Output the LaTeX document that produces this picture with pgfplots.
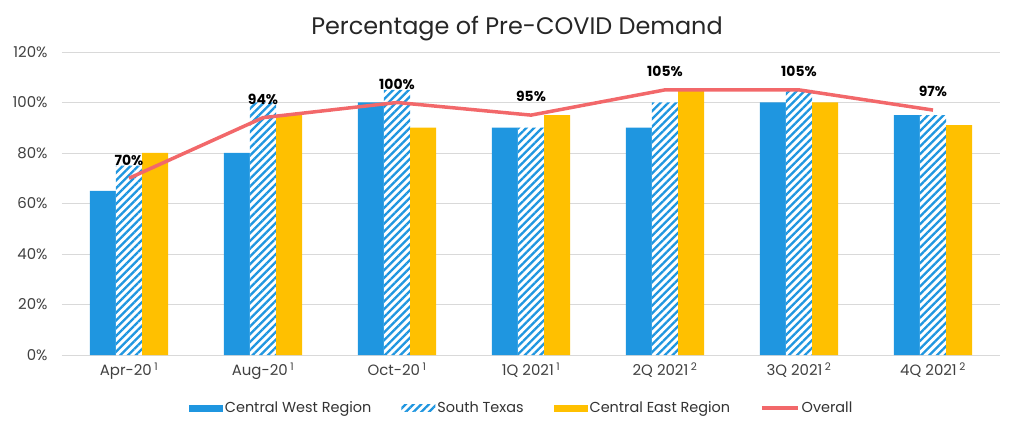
\documentclass[border=0pt]{standalone}
\usepackage{pgfplots}
\pgfplotsset{compat=1.18}
\usepackage{fontspec}
\setmainfont{Poppins}
\usetikzlibrary{patterns.meta}
\definecolor{cwblue}{RGB}{31,150,224}
\definecolor{cegold}{RGB}{255,192,0}
\definecolor{ovred}{RGB}{242,104,106}
\definecolor{gridgray}{RGB}{217,217,217}
\pgfplotsset{
  barlegend/.style={legend image code/.code={\draw[##1,draw=none] (0bp,-3.5bp) rectangle (34bp,3.5bp);}},
  linelegend/.style={legend image code/.code={\draw[##1] (0bp,0bp) -- (36bp,0bp);}},
}
\begin{document}
\begin{tikzpicture}[x=1bp,y=1bp]
\useasboundingbox (-62bp,-66bp) rectangle (951bp,355bp);
\begin{axis}[
  at={(0,0)}, anchor=south west,
  scale only axis, width=938bp, height=303bp,
  xmin=-0.5, xmax=6.5, ymin=0, ymax=120,
  xtick={0,1,2,3,4,5,6},
  xticklabels={Apr-20\,\textsuperscript{1},Aug-20\,\textsuperscript{1},Oct-20\,\textsuperscript{1},1Q 2021\,\textsuperscript{1},2Q 2021\,\textsuperscript{2},3Q 2021\,\textsuperscript{2},4Q 2021\,\textsuperscript{2}},
  ytick={0,20,40,60,80,100,120},
  yticklabel={\pgfmathprintnumber{\tick}\%},
  /pgf/number format/assume math mode=true,
  ymajorgrids, grid style={gridgray, line width=0.8pt},
  axis x line*=bottom, axis y line*=left,
  x axis line style={gridgray, line width=0.8pt, -},
  y axis line style={draw=none},
  major tick length=0pt,
  tick label style={font=\fontsize{15}{17}\selectfont, text=black!75},
  yticklabel style={xshift=-11bp},
  xticklabel style={yshift=-4bp},
  title={Percentage of Pre-COVID Demand},
  title style={font=\fontsize{24}{27}\selectfont, text=black!85, yshift=2bp, xshift=-14bp},
  legend style={at={(0.49,-0.175)}, anchor=center, draw=none, font=\fontsize{14.5}{16}\selectfont, text=black!80, legend columns=4, /tikz/every even column/.append style={column sep=28bp}, /tikz/every odd column/.append style={column sep=0bp}},
  barlegend,
  clip=false,
]
\addplot[ybar, bar width=0.195, bar shift=-0.195, fill=cwblue, draw=none] coordinates {(0,65) (1,80) (2,100) (3,90) (4,90) (5,100) (6,95)};
\addlegendentry{Central West Region}
\addplot[ybar, bar width=0.195, bar shift=0, draw=none, fill=white, postaction={pattern={Lines[angle=45,distance=5.5bp,line width=2.3bp]}, pattern color=cwblue}] coordinates {(0,75) (1,100) (2,105) (3,90) (4,100) (5,105) (6,95)};
\addlegendentry{South Texas}
\addplot[ybar, bar width=0.195, bar shift=0.195, fill=cegold, draw=none] coordinates {(0,80) (1,95) (2,90) (3,95) (4,105) (5,100) (6,91)};
\addlegendentry{Central East Region}
\addplot[ovred, line width=3.5bp, mark=none, linelegend,
  nodes near coords={\pgfmathprintnumber{\pgfplotspointmeta}\%},
  every node near coord/.append style={font=\fontsize{14}{15}\selectfont\bfseries, text=black, yshift=8bp}]
  coordinates {(0,70) (1,94) (2,100) (3,95) (4,105) (5,105) (6,97)};
\addlegendentry{Overall}
\end{axis}
\end{tikzpicture}
\end{document}
